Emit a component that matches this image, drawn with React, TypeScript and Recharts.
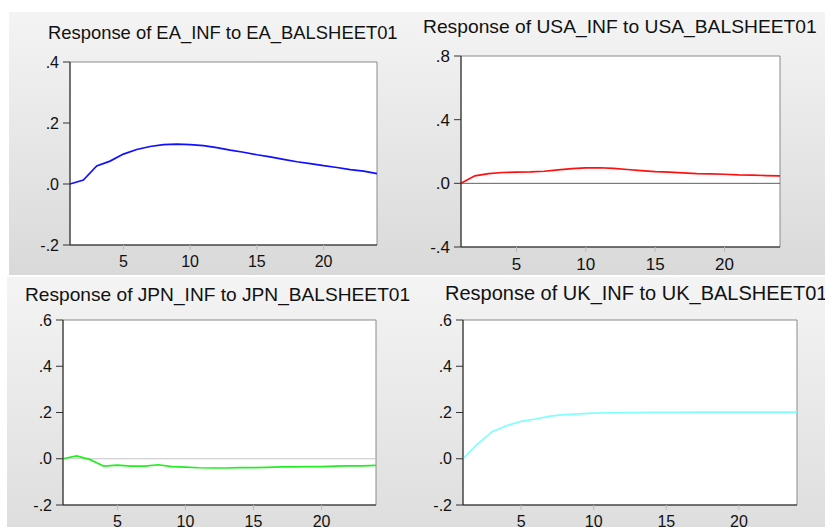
import { CartesianGrid, Line, LineChart, ReferenceArea, ReferenceLine, XAxis, YAxis } from 'recharts'

const periods = [1, 2, 3, 4, 5, 6, 7, 8, 9, 10, 11, 12, 13, 14, 15, 16, 17, 18, 19, 20, 21, 22, 23, 24]

const eaInf = [
  0.0, 0.013, 0.059, 0.075, 0.098, 0.113, 0.123, 0.129, 0.131, 0.129, 0.126, 0.119,
  0.111, 0.104, 0.096, 0.089, 0.081, 0.073, 0.067, 0.06, 0.054, 0.047, 0.042, 0.034,
]
const usaInf = [
  0.0, 0.047, 0.061, 0.068, 0.07, 0.072, 0.076, 0.085, 0.093, 0.097, 0.098, 0.094,
  0.087, 0.08, 0.074, 0.07, 0.066, 0.061, 0.059, 0.057, 0.053, 0.051, 0.049, 0.047,
]
const jpnInf = [
  0.0, 0.012, -0.004, -0.032, -0.028, -0.032, -0.032, -0.026, -0.034, -0.036, -0.039, -0.04,
  -0.04, -0.038, -0.038, -0.037, -0.035, -0.035, -0.034, -0.034, -0.032, -0.031, -0.031, -0.029,
]
const ukInf = [
  0.0, 0.063, 0.117, 0.143, 0.162, 0.172, 0.184, 0.191, 0.194, 0.197, 0.199, 0.2,
  0.2, 0.201, 0.201, 0.201, 0.202, 0.202, 0.202, 0.202, 0.202, 0.202, 0.202, 0.202,
]

const xTicks = [5, 10, 15, 20]
const eaTicks = [-0.2, 0.0, 0.2, 0.4]
const usaTicks = [-0.4, 0.0, 0.4, 0.8]
const jpnTicks = [-0.2, 0.0, 0.2, 0.4, 0.6]
const ukTicks = [-0.2, 0.0, 0.2, 0.4, 0.6]

// EViews style: ".4", ".0", "-.2"
const fmt = (v: number) => v.toFixed(1).replace('0.', '.')

const FONT = '"Liberation Sans", Arial, sans-serif'

function Panel({
  title,
  values,
  color,
  yTicks,
  zeroLine,
  box,
  plot,
  titleBox,
  tickSize,
  bg,
}: {
  title: string
  values: number[]
  color: string
  yTicks: number[]
  zeroLine?: string
  box: { left: number; top: number; width: number; height: number }
  plot: { left: number; top: number; right: number; bottom: number }
  titleBox: { left: number; top: number; size: number }
  tickSize: number
  bg: string
}) {
  const data = periods.map((p, i) => ({ period: p, value: values[i] }))
  const yMin = yTicks[0]
  const yMax = yTicks[yTicks.length - 1]

  return (
    <div
      style={{
        position: 'absolute',
        left: box.left,
        top: box.top,
        width: box.width,
        height: box.height,
        background: bg,
        overflow: 'hidden',
      }}
    >
      <div
        style={{
          position: 'absolute',
          left: titleBox.left,
          top: titleBox.top,
          fontSize: titleBox.size,
          lineHeight: 1,
          whiteSpace: 'nowrap',
          color: '#111',
          fontFamily: FONT,
        }}
      >
        {title}
      </div>
      <LineChart
        width={box.width}
        height={box.height}
        data={data}
        margin={{ top: plot.top, right: plot.right, bottom: 0, left: 0 }}
        style={{ position: 'absolute', left: 0, top: 0 }}
      >
        <CartesianGrid fill="#ffffff" horizontal={false} vertical={false} />
        <ReferenceArea
          x1={1}
          x2={24}
          y1={yMin}
          y2={yMax}
          fill="none"
          stroke="#8a8a8a"
          strokeWidth={1}
        />
        {zeroLine && <ReferenceLine y={0} stroke={zeroLine} strokeWidth={1} />}
        <XAxis
          dataKey="period"
          type="number"
          domain={[1, 24]}
          ticks={xTicks}
          height={plot.bottom}
          axisLine={{ stroke: '#222' }}
          tickLine={{ stroke: '#bbb' }}
          tickSize={5}
          tickMargin={6}
          tick={{ fontSize: tickSize, fill: '#111', fontFamily: FONT }}
        />
        <YAxis
          type="number"
          domain={[yMin, yMax]}
          ticks={yTicks}
          width={plot.left}
          tickFormatter={fmt}
          axisLine={{ stroke: '#222' }}
          tickLine={{ stroke: '#333' }}
          tickSize={7}
          tickMargin={4}
          tick={{ fontSize: tickSize, fill: '#111', fontFamily: FONT }}
        />
        <Line
          type="linear"
          dataKey="value"
          stroke={color}
          strokeWidth={1.7}
          dot={false}
          isAnimationActive={false}
        />
      </LineChart>
    </div>
  )
}

export default function App() {
  const topBg = 'linear-gradient(#f4f4f4, #d9d9d9)'
  const bottomBg = 'linear-gradient(#f4f4f4, #dedede)'
  return (
    <div
      style={{
        position: 'absolute',
        left: 0,
        top: 0,
        width: 825,
        height: 527,
        background: '#fff',
        overflow: 'hidden',
        fontFamily: FONT,
      }}
    >
      <Panel
        title="Response of EA_INF to EA_BALSHEET01"
        values={eaInf}
        color="#1010ff"
        yTicks={eaTicks}
        box={{ left: 9, top: 12, width: 398, height: 263 }}
        plot={{ left: 61, top: 50, right: 30, bottom: 30 }}
        titleBox={{ left: 39, top: 12, size: 18.4 }}
        tickSize={16}
        bg={topBg}
      />
      <Panel
        title="Response of USA_INF to USA_BALSHEET01"
        values={usaInf}
        color="#ff1010"
        yTicks={usaTicks}
        zeroLine="#606060"
        box={{ left: 407, top: 12, width: 418, height: 263 }}
        plot={{ left: 54, top: 44, right: 45, bottom: 28 }}
        titleBox={{ left: 16, top: 5, size: 19.25 }}
        tickSize={17}
        bg={topBg}
      />
      <Panel
        title="Response of JPN_INF to JPN_BALSHEET01"
        values={jpnInf}
        color="#22ee22"
        yTicks={jpnTicks}
        zeroLine="#c4c4c4"
        box={{ left: 7, top: 277, width: 403, height: 250 }}
        plot={{ left: 56, top: 43, right: 34, bottom: 22 }}
        titleBox={{ left: 18, top: 8, size: 19.15 }}
        tickSize={16}
        bg={bottomBg}
      />
      <Panel
        title="Response of UK_INF to UK_BALSHEET01"
        values={ukInf}
        color="#80ffff"
        yTicks={ukTicks}
        box={{ left: 410, top: 277, width: 415, height: 250 }}
        plot={{ left: 53, top: 43, right: 28, bottom: 22 }}
        titleBox={{ left: 35, top: 6, size: 20 }}
        tickSize={16}
        bg={bottomBg}
      />
    </div>
  )
}
